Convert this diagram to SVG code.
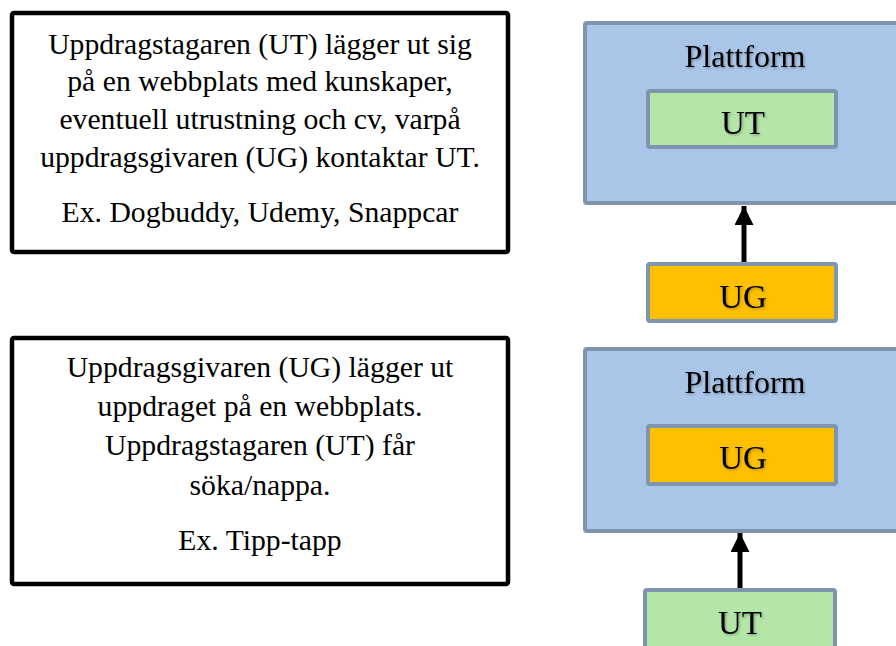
<svg xmlns="http://www.w3.org/2000/svg" width="896" height="646" viewBox="0 0 896 646">
<defs>
<style>
.txt{font-family:"Liberation Serif","Times New Roman",serif;font-size:29.7px;fill:#000;text-anchor:middle}
.lbl{font-family:"Liberation Serif","Times New Roman",serif;font-size:33px;fill:#000;text-anchor:middle;filter:url(#sh)}
.ttl{font-size:32px}
.box{fill:#fff;stroke:#000;stroke-width:4.5}
.plat{fill:#a9c5e8;stroke:#7f94ae;stroke-width:4}
.ut{fill:#b4e6a8;stroke:#7f94ae;stroke-width:4}
.ug{fill:#ffc000;stroke:#7f94ae;stroke-width:4}
.conn{stroke:#000;stroke-width:5;fill:none;marker-end:url(#ah)}
</style>
<filter id="sh" x="-10%" y="-10%" width="130%" height="130%">
<feDropShadow dx="1.2" dy="1.2" stdDeviation="0.8" flood-color="#000" flood-opacity="0.3"/>
</filter>
<marker id="ah" viewBox="0 0 10 10" refX="10" refY="5" markerWidth="3.8" markerHeight="3.8" orient="auto" markerUnits="strokeWidth">
<path d="M0,0 L10,5 L0,10 Z" fill="#000"/>
</marker>
</defs>
<g id="desc1">
<rect class="box" x="12" y="13" width="496" height="239" rx="2"/>
<text class="txt" x="260" y="54">Uppdragstagaren (UT) lägger ut sig</text>
<text class="txt" x="260" y="91">på en webbplats med kunskaper,</text>
<text class="txt" x="260" y="129">eventuell utrustning och cv, varpå</text>
<text class="txt" x="260" y="167">uppdragsgivaren (UG) kontaktar UT.</text>
<text class="txt" x="260" y="222">Ex. Dogbuddy, Udemy, Snappcar</text>
</g>
<g id="desc2">
<rect class="box" x="12" y="338" width="496" height="246" rx="2"/>
<text class="txt" x="260" y="377">Uppdragsgivaren (UG) lägger ut</text>
<text class="txt" x="260" y="416">uppdraget på en webbplats.</text>
<text class="txt" x="260" y="455">Uppdragstagaren (UT) får</text>
<text class="txt" x="260" y="495">söka/nappa.</text>
<text class="txt" x="260" y="550">Ex. Tipp-tapp</text>
</g>
<g id="platform1">
<rect class="plat" x="585" y="23" width="320" height="180" rx="2"/>
<text class="lbl ttl" x="745" y="67">Plattform</text>
</g>
<g id="ut1">
<rect class="ut" x="648" y="91" width="188" height="56" rx="2"/>
<text class="lbl" x="743" y="134">UT</text>
</g>
<g id="ug1">
<rect class="ug" x="648" y="264" width="188" height="57" rx="2"/>
<text class="lbl" x="743" y="308">UG</text>
</g>
<g id="platform2">
<rect class="plat" x="585" y="349" width="320" height="182" rx="2"/>
<text class="lbl ttl" x="745" y="393">Plattform</text>
</g>
<g id="ug2">
<rect class="ug" x="648" y="426" width="188" height="58" rx="2"/>
<text class="lbl" x="743" y="469">UG</text>
</g>
<g id="ut2">
<rect class="ut" x="645" y="590" width="190" height="62" rx="2"/>
<text class="lbl" x="740" y="634">UT</text>
</g>
<g id="connectors">
<line class="conn" x1="744" y1="262" x2="744" y2="206"/>
<line class="conn" x1="740" y1="588" x2="740" y2="533"/>
</g>
</svg>
